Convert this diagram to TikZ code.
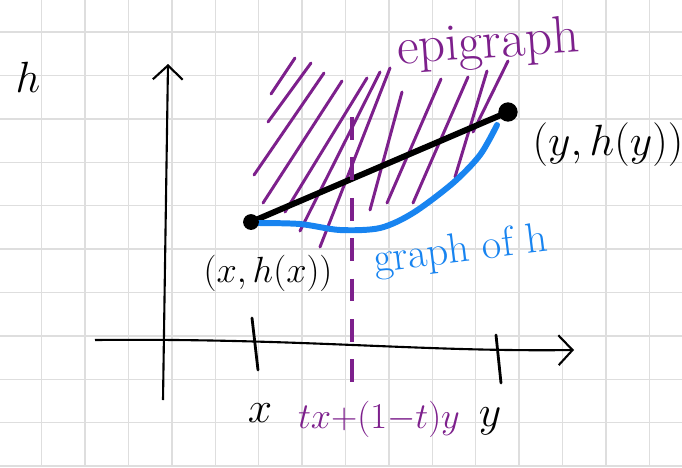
\documentclass[tikz,border=0pt]{standalone}
\definecolor{epipurple}{RGB}{125,32,140}
\definecolor{graphblue}{RGB}{24,132,240}
\definecolor{gridgray}{RGB}{222,222,222}
\usetikzlibrary{arrows.meta}

\begin{document}
\begin{tikzpicture}[
    x=0.02cm, y=-0.02cm,
    gridline/.style={draw=gridgray, line width=0.8pt},
    axis/.style={line width=1.2pt, -{Straight Barb[length=8pt, width=17pt, line width=1.2pt]}},
    tickmark/.style={line width=1.6pt, line cap=round},
    hatch/.style={draw=epipurple, line width=1.7pt, line cap=round},
    chord/.style={line width=3.4pt, line cap=round},
    curve/.style={draw=graphblue, line width=3.4pt, line cap=round},
    midline/.style={draw=epipurple, line width=2.8pt, dash pattern=on 13pt off 10pt},
    dot/.style={circle, fill=black, inner sep=0pt, minimum size=9pt},
    lbl/.style={inner sep=0pt, anchor=base}
]
    \useasboundingbox (0,0) rectangle (682,467);

    % grid paper
    \foreach \gx in {0,...,14}
        \draw[gridline] ({41.7+43.4*\gx},0) -- ({41.7+43.4*\gx},467);
    \foreach \gy in {0,...,10}
        \draw[gridline] (0,{32+43.4*\gy}) -- (682,{32+43.4*\gy});

    % axes
    \coordinate (vb) at (163,400);
    \coordinate (vt) at (168,64);
    \coordinate (hl) at (95,340);
    \coordinate (hr) at (574,350);
    \draw[axis] (vb) -- (vt);
    \draw[axis] (hl) .. controls (300,338) and (420,352) .. (hr);

    % ticks
    \coordinate (xt) at (252,318);
    \coordinate (xb) at (258,370);
    \coordinate (yt) at (496,335);
    \coordinate (yb) at (501,383);
    \draw[tickmark] (xt) -- (xb);
    \draw[tickmark] (yt) -- (yb);

    % epigraph hatching
    \foreach \ax/\ay/\bx/\by in {271/94/295/58, 268/122/311/63, 254/175/324/73,
        263/203/342/81, 285/212/367/78, 300/231/380/72, 320/247/390/68,
        370/210/402/92, 387/203/441/79, 413/203/468/77, 455/177/487/71,
        473/132/508/61}
        \draw[hatch] (\ax,\ay) -- (\bx,\by);

    % points and chord
    \coordinate (px) at (251,222);
    \coordinate (py) at (508,112);
    \draw[chord] (px) -- (py);

    % graph of h
    \draw[curve] plot[smooth] coordinates {(258,223) (300,224) (340,230) (380,228)
        (413,213) (453,183) (480,155) (497,125)};

    % t x + (1-t) y
    \coordinate (mt) at (352,117);
    \coordinate (mb) at (352,382);
    \draw[midline] (mt) -- (mb);

    \node[dot] (dx) at (px) {};
    \node[dot, minimum size=11pt] (dy) at (py) {};

    % labels
    \node[lbl, font=\fontsize{52}{54}\selectfont] (hname) at (28,92) {$h$};
    \node[lbl, text=epipurple, font=\fontsize{30}{32}\selectfont, rotate=4] (epi) at (489,58) {epigraph};
    \node[lbl, font=\fontsize{24}{26}\selectfont] (ylab) at (608,155) {$(y,h(y))$};
    \node[lbl, font=\fontsize{22}{24}\selectfont] (xlab) at (268,282) {$(x,h(x))$};
    \node[lbl, text=graphblue, font=\fontsize{24}{26}\selectfont, rotate=7] (glab) at (462,262) {graph of h};
    \node[lbl, font=\fontsize{38}{40}\selectfont] (xval) at (260,422) {$x$};
    \node[lbl, font=\fontsize{46}{48}\selectfont] (yval) at (490,426) {$y$};
    \node[lbl, text=epipurple, font=\fontsize{20}{22}\selectfont] (mval) at (379,428) {$tx{+}(1{-}t)y$};
\end{tikzpicture}
\end{document}
